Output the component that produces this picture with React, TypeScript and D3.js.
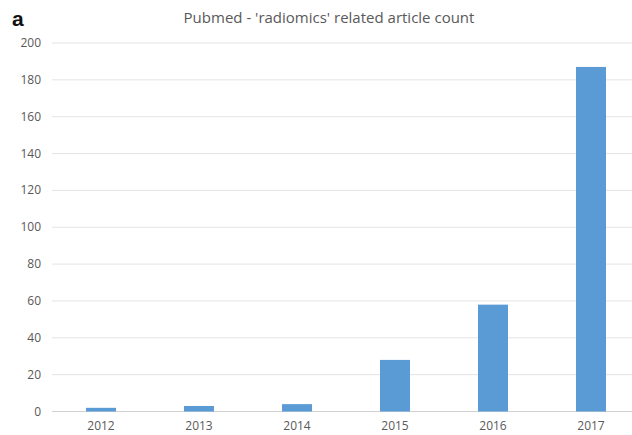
import React from "react";
import * as d3 from "d3";

const years = ["2012", "2013", "2014", "2015", "2016", "2017"];
const counts = [2, 3, 4, 28, 58, 187];
const yTicks = [0, 20, 40, 60, 80, 100, 120, 140, 160, 180, 200];
const title = "Pubmed - 'radiomics' related article count";

export default function App() {
  const W = 632, H = 435;
  const left = 52, right = 640, top = 43, bottom = 411.5;
  const x = d3.scaleBand<string>().domain(years).range([left, right]).paddingInner(0.694).paddingOuter(0.347);
  const y = d3.scaleLinear().domain([0, 200]).range([bottom, top]);
  const font = "'Open Sans', 'Liberation Sans', sans-serif";
  return (
    <svg width={W} height={H} style={{ position: "absolute", left: 0, top: 0, background: "#fff" }}>
      <rect x={0} y={0} width={W} height={H} fill="#fff" />
      <text x={12} y={26} fontFamily="'Liberation Sans', Arial, sans-serif" fontWeight="bold" fontSize={21} fill="#111">a</text>
      <text x={329} y={23} textAnchor="middle" fontFamily={font} fontSize={15} fill="#595959">{title}</text>
      {yTicks.map((t) => (
        <g key={t}>
          <line x1={left} x2={right} y1={y(t)} y2={y(t)} stroke={t === 0 ? "#d0d0d0" : "#e4e4e4"} strokeWidth={1} />
          <text x={41} y={y(t) + 4} textAnchor="end" fontFamily={font} fontSize={12} fill="#595959">{t}</text>
        </g>
      ))}
      {years.map((yr, i) => (
        <g key={yr}>
          <rect x={x(yr)} y={y(counts[i])} width={x.bandwidth()} height={bottom - y(counts[i])} fill="#5B9BD5" />
          <text x={(x(yr) as number) + x.bandwidth() / 2} y={430} textAnchor="middle" fontFamily={font} fontSize={12} fill="#595959">{yr}</text>
        </g>
      ))}
    </svg>
  );
}
